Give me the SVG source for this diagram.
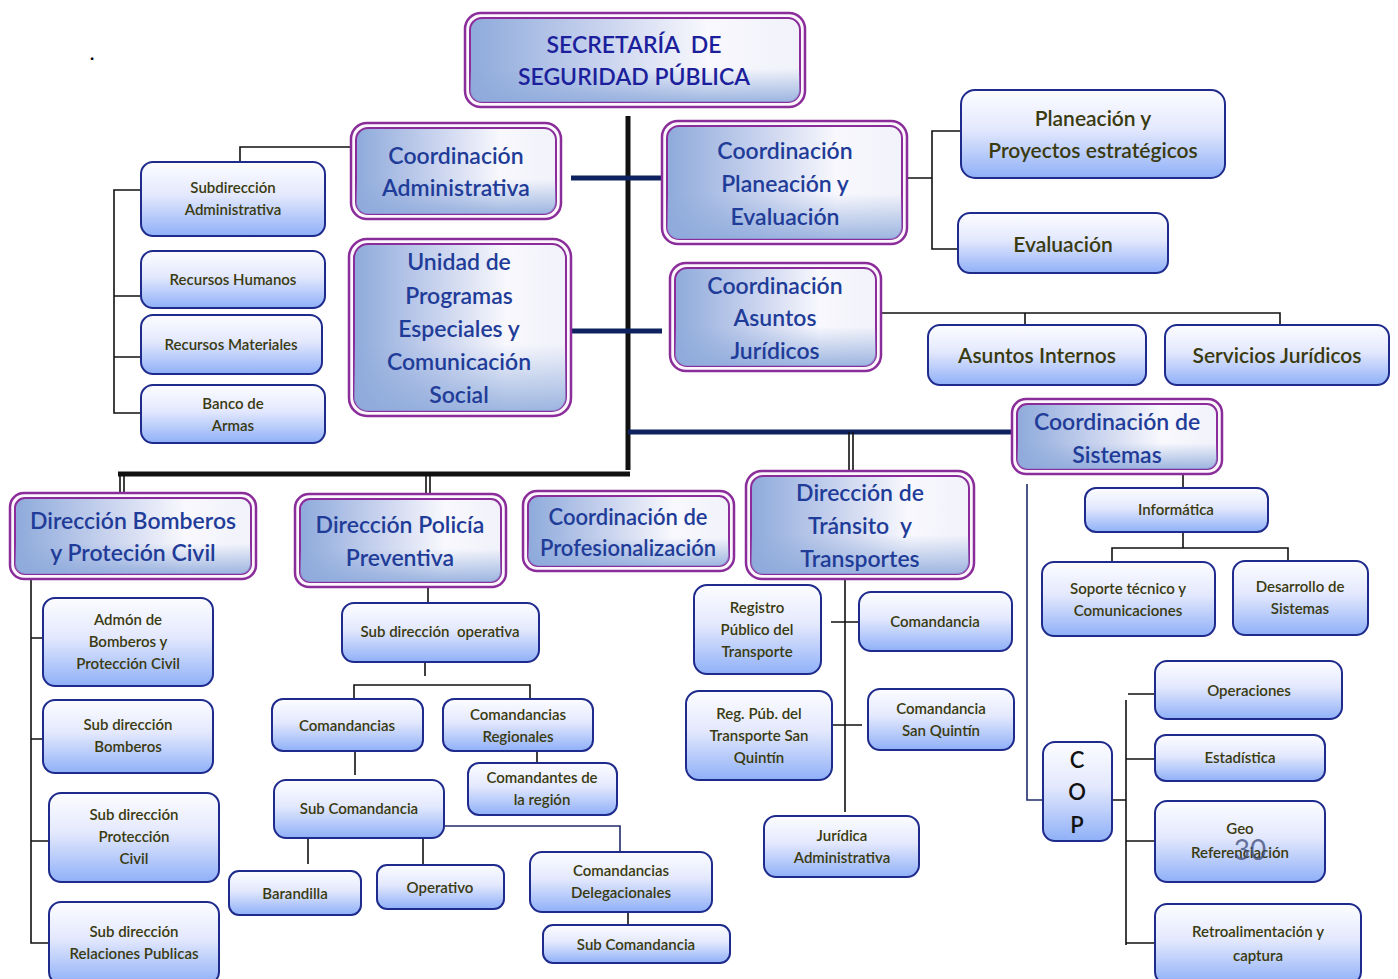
<svg xmlns="http://www.w3.org/2000/svg" width="1398" height="979" viewBox="0 0 1398 979">
  <defs>
    <linearGradient id="gMainH" x1="0" y1="0" x2="1" y2="0">
      <stop offset="0" stop-color="#8eaadb"/>
      <stop offset="0.4" stop-color="#c9d3ee"/>
      <stop offset="0.72" stop-color="#f8f8fd"/>
      <stop offset="1" stop-color="#f1f2fa"/>
    </linearGradient>
    <linearGradient id="gMainV" x1="0" y1="0" x2="0" y2="1">
      <stop offset="0" stop-color="#8eaadb" stop-opacity="0"/>
      <stop offset="0.6" stop-color="#8eaadb" stop-opacity="0"/>
      <stop offset="1" stop-color="#8eaadb" stop-opacity="0.85"/>
    </linearGradient>
    <linearGradient id="gSub" x1="0" y1="0" x2="0" y2="1">
      <stop offset="0" stop-color="#fdfdff"/>
      <stop offset="0.45" stop-color="#e3e8fd"/>
      <stop offset="1" stop-color="#8fb0f8"/>
    </linearGradient>
    <style>
      .mo { fill: #fbf7fc; stroke: #8b2c9b; stroke-width: 2.5; }
      .mi { fill: url(#gMainH); stroke: #8b2c9b; stroke-width: 2; }
      .mv { fill: url(#gMainV); stroke: none; }
      .sb { fill: url(#gSub); stroke: #1f2b8c; stroke-width: 2; }
      text { font-family: Lato, "Liberation Sans", sans-serif; text-anchor: middle; }
      .mt { fill: #1f3c98; font-size: 23px; font-weight: 600; }
      .tt { fill: #1c1f9c; font-size: 23px; font-weight: 600; white-space: pre; }
      .st { fill: #3a3a10; font-size: 15px; font-weight: 600; }
      .sl { fill: #3a3a10; font-size: 21px; font-weight: 600; }
      .thin { fill: none; stroke: #111; stroke-width: 1.6; }
      .navyThin { fill: none; stroke: #1f2b6a; stroke-width: 1.6; }
      .spine { fill: none; stroke: #111; stroke-width: 5; }
      .navy { fill: none; stroke: #0e2260; stroke-width: 5; }
    </style>
  </defs>

  <rect width="1398" height="979" fill="#ffffff"/>
  <text x="92" y="60" style="font-size:22px;fill:#000">.</text>

  <!-- connectors -->
  <g id="connectors">
    <!-- trunk -->
    <line class="spine" x1="628" y1="116" x2="628" y2="470"/>
    <line class="navy" x1="571" y1="178" x2="662" y2="178"/>
    <line class="navy" x1="571" y1="331" x2="662" y2="331"/>
    <line class="navy" x1="628" y1="432" x2="1012" y2="432"/>
    <line class="spine" x1="118" y1="474" x2="630" y2="474"/>
    <!-- double drops -->
    <path class="thin" d="M120 474V495M124 474V495"/>
    <path class="thin" d="M426 474V495M430 474V495"/>
    <path class="thin" d="M849 432V472M853 432V472"/>
    <!-- administrativa -->
    <path class="thin" d="M351 147H240V162"/>
    <path class="thin" d="M141 190H114V413H141M114 296H141M114 357H141"/>
    <!-- planeacion -->
    <path class="thin" d="M907 178H932M961 131H932V249H958"/>
    <!-- juridicos -->
    <path class="thin" d="M881 313H1280V325M1025 313V325"/>
    <!-- sistemas -->
    <path class="thin" d="M1183 474V488M1183 532V548M1112 562V548H1288V562"/>
    <path class="navyThin" d="M1027 484V800H1043"/>
    <path class="thin" d="M1112 800H1126M1126 700V945M1128 694H1155M1126 759H1155M1126 841H1155M1126 943H1155"/>
    <!-- bomberos -->
    <path class="thin" d="M31 579V943H49M31 638H43M31 739H43M31 841H49"/>
    <!-- policia -->
    <path class="thin" d="M428 587V603M425 662V676M354 699V685H530V699M537 751V763M355 751V775"/>
    <path class="navyThin" d="M444 826H620V852"/>
    <path class="thin" d="M308 838V864M423 838V864M628 912V925"/>
    <!-- transito -->
    <path class="thin" d="M845 579V812M831 622H858M832 725H862"/>
  </g>

  <!-- top -->
  <g id="n-secretaria">
    <rect class="mo" x="465" y="13" width="340" height="94" rx="16"/>
    <rect class="mi" x="470" y="18" width="330" height="84" rx="12"/>
    <rect class="mv" x="470" y="18" width="330" height="84" rx="12"/>
    <text class="tt"><tspan x="634" y="53">SECRETARÍA  DE</tspan><tspan x="634" y="85">SEGURIDAD PÚBLICA</tspan></text>
  </g>

  <g id="n-coord-admin">
    <rect class="mo" x="351" y="123" width="210" height="96" rx="16"/>
    <rect class="mi" x="356" y="128" width="200" height="86" rx="12"/>
    <rect class="mv" x="356" y="128" width="200" height="86" rx="12"/>
    <text class="mt"><tspan x="456" y="164">Coordinación</tspan><tspan x="456" y="196">Administrativa</tspan></text>
  </g>

  <g id="n-coord-planeacion">
    <rect class="mo" x="662" y="121" width="245" height="123" rx="16"/>
    <rect class="mi" x="667" y="126" width="235" height="113" rx="12"/>
    <rect class="mv" x="667" y="126" width="235" height="113" rx="12"/>
    <text class="mt"><tspan x="785" y="159">Coordinación</tspan><tspan x="785" y="192">Planeación y</tspan><tspan x="785" y="225">Evaluación</tspan></text>
  </g>

  <g id="n-unidad">
    <rect class="mo" x="349" y="239" width="222" height="177" rx="18"/>
    <rect class="mi" x="354" y="244" width="212" height="167" rx="14"/>
    <rect class="mv" x="354" y="244" width="212" height="167" rx="14"/>
    <text class="mt"><tspan x="459" y="270">Unidad de</tspan><tspan x="459" y="304">Programas</tspan><tspan x="459" y="337">Especiales y</tspan><tspan x="459" y="370">Comunicación</tspan><tspan x="459" y="403">Social</tspan></text>
  </g>

  <g id="n-coord-juridicos">
    <rect class="mo" x="670" y="263" width="211" height="108" rx="16"/>
    <rect class="mi" x="675" y="268" width="201" height="98" rx="12"/>
    <rect class="mv" x="675" y="268" width="201" height="98" rx="12"/>
    <text class="mt"><tspan x="775" y="294">Coordinación</tspan><tspan x="775" y="326">Asuntos</tspan><tspan x="775" y="359">Jurídicos</tspan></text>
  </g>

  <g id="n-coord-sistemas">
    <rect class="mo" x="1012" y="399" width="210" height="75" rx="14"/>
    <rect class="mi" x="1017" y="404" width="200" height="65" rx="10"/>
    <rect class="mv" x="1017" y="404" width="200" height="65" rx="10"/>
    <text class="mt"><tspan x="1117" y="430">Coordinación de</tspan><tspan x="1117" y="463">Sistemas</tspan></text>
  </g>

  <g id="n-dir-bomberos">
    <rect class="mo" x="10" y="493" width="246" height="86" rx="14"/>
    <rect class="mi" x="15" y="498" width="236" height="76" rx="10"/>
    <rect class="mv" x="15" y="498" width="236" height="76" rx="10"/>
    <text class="mt"><tspan x="133" y="529">Dirección Bomberos</tspan><tspan x="133" y="561">y Proteción Civil</tspan></text>
  </g>

  <g id="n-dir-policia">
    <rect class="mo" x="295" y="494" width="211" height="93" rx="14"/>
    <rect class="mi" x="300" y="499" width="201" height="83" rx="10"/>
    <rect class="mv" x="300" y="499" width="201" height="83" rx="10"/>
    <text class="mt"><tspan x="400" y="533">Dirección Policía</tspan><tspan x="400" y="566">Preventiva</tspan></text>
  </g>

  <g id="n-coord-profesionalizacion">
    <rect class="mo" x="523" y="491" width="211" height="80" rx="14"/>
    <rect class="mi" x="528" y="496" width="201" height="70" rx="10"/>
    <rect class="mv" x="528" y="496" width="201" height="70" rx="10"/>
    <text class="mt" style="font-size:22px"><tspan x="628" y="525">Coordinación de</tspan><tspan x="628" y="556">Profesionalización</tspan></text>
  </g>

  <g id="n-dir-transito">
    <rect class="mo" x="746" y="471" width="228" height="108" rx="16"/>
    <rect class="mi" x="751" y="476" width="218" height="98" rx="12"/>
    <rect class="mv" x="751" y="476" width="218" height="98" rx="12"/>
    <text class="mt" style="white-space:pre"><tspan x="860" y="501">Dirección de</tspan><tspan x="860" y="534">Tránsito  y</tspan><tspan x="860" y="567">Transportes</tspan></text>
  </g>

  <!-- administrativa children -->
  <g id="n-subdir-admin">
    <rect class="sb" x="141" y="162" width="184" height="74" rx="12"/>
    <text class="st"><tspan x="233" y="193">Subdirección</tspan><tspan x="233" y="215">Administrativa</tspan></text>
  </g>
  <g id="n-rrhh">
    <rect class="sb" x="141" y="251" width="184" height="57" rx="12"/>
    <text class="st"><tspan x="233" y="285">Recursos Humanos</tspan></text>
  </g>
  <g id="n-rrmm">
    <rect class="sb" x="141" y="315" width="181" height="59" rx="12"/>
    <text class="st"><tspan x="231" y="350">Recursos Materiales</tspan></text>
  </g>
  <g id="n-banco">
    <rect class="sb" x="141" y="385" width="184" height="58" rx="12"/>
    <text class="st"><tspan x="233" y="409">Banco de</tspan><tspan x="233" y="431">Armas</tspan></text>
  </g>

  <!-- planeacion children -->
  <g id="n-planeacion-proy">
    <rect class="sb" x="961" y="90" width="264" height="88" rx="14"/>
    <text class="sl"><tspan x="1093" y="126">Planeación y</tspan><tspan x="1093" y="158">Proyectos estratégicos</tspan></text>
  </g>
  <g id="n-evaluacion">
    <rect class="sb" x="958" y="213" width="210" height="60" rx="12"/>
    <text class="sl"><tspan x="1063" y="252">Evaluación</tspan></text>
  </g>

  <!-- juridicos children -->
  <g id="n-asuntos-internos">
    <rect class="sb" x="928" y="325" width="218" height="60" rx="12"/>
    <text class="sl"><tspan x="1037" y="363">Asuntos Internos</tspan></text>
  </g>
  <g id="n-servicios-juridicos">
    <rect class="sb" x="1165" y="325" width="224" height="60" rx="12"/>
    <text class="sl"><tspan x="1277" y="363">Servicios Jurídicos</tspan></text>
  </g>

  <!-- sistemas children -->
  <g id="n-informatica">
    <rect class="sb" x="1085" y="488" width="183" height="44" rx="11"/>
    <text class="st"><tspan x="1176" y="515">Informática</tspan></text>
  </g>
  <g id="n-soporte">
    <rect class="sb" x="1042" y="562" width="173" height="74" rx="12"/>
    <text class="st"><tspan x="1128" y="594">Soporte técnico y</tspan><tspan x="1128" y="616">Comunicaciones</tspan></text>
  </g>
  <g id="n-desarrollo">
    <rect class="sb" x="1233" y="561" width="135" height="74" rx="12"/>
    <text class="st"><tspan x="1300" y="592">Desarrollo de</tspan><tspan x="1300" y="614">Sistemas</tspan></text>
  </g>
  <g id="n-cop">
    <rect class="sb" x="1043" y="742" width="69" height="99" rx="12"/>
    <text style="font-size:22px;font-weight:600;fill:#111"><tspan x="1077" y="768">C</tspan><tspan x="1077" y="800">O</tspan><tspan x="1077" y="833">P</tspan></text>
  </g>
  <g id="n-operaciones">
    <rect class="sb" x="1155" y="661" width="187" height="58" rx="12"/>
    <text class="st"><tspan x="1249" y="696">Operaciones</tspan></text>
  </g>
  <g id="n-estadistica">
    <rect class="sb" x="1155" y="735" width="170" height="46" rx="11"/>
    <text class="st"><tspan x="1240" y="763">Estadística</tspan></text>
  </g>
  <g id="n-geo">
    <rect class="sb" x="1155" y="801" width="170" height="81" rx="12"/>
    <text class="st"><tspan x="1240" y="834">Geo</tspan><tspan x="1240" y="858">Referenciación</tspan></text>
  </g>
  <g id="n-retro">
    <rect class="sb" x="1155" y="904" width="206" height="80" rx="12"/>
    <text class="st"><tspan x="1258" y="937">Retroalimentación y</tspan><tspan x="1258" y="961">captura</tspan></text>
  </g>

  <!-- bomberos children -->
  <g id="n-admon-bomberos">
    <rect class="sb" x="43" y="598" width="170" height="88" rx="12"/>
    <text class="st"><tspan x="128" y="625">Admón de</tspan><tspan x="128" y="647">Bomberos y</tspan><tspan x="128" y="669">Protección Civil</tspan></text>
  </g>
  <g id="n-subdir-bomberos">
    <rect class="sb" x="43" y="700" width="170" height="73" rx="12"/>
    <text class="st"><tspan x="128" y="730">Sub dirección</tspan><tspan x="128" y="752">Bomberos</tspan></text>
  </g>
  <g id="n-subdir-proteccion">
    <rect class="sb" x="49" y="793" width="170" height="89" rx="12"/>
    <text class="st"><tspan x="134" y="820">Sub dirección</tspan><tspan x="134" y="842">Protección</tspan><tspan x="134" y="864">Civil</tspan></text>
  </g>
  <g id="n-subdir-relaciones">
    <rect class="sb" x="49" y="902" width="170" height="82" rx="12"/>
    <text class="st"><tspan x="134" y="937">Sub dirección</tspan><tspan x="134" y="959">Relaciones Publicas</tspan></text>
  </g>

  <!-- policia children -->
  <g id="n-subdir-operativa">
    <rect class="sb" x="342" y="603" width="197" height="59" rx="12"/>
    <text class="st" style="white-space:pre"><tspan x="440" y="637">Sub dirección  operativa</tspan></text>
  </g>
  <g id="n-comandancias">
    <rect class="sb" x="272" y="699" width="151" height="52" rx="11"/>
    <text class="st"><tspan x="347" y="731">Comandancias</tspan></text>
  </g>
  <g id="n-comandancias-regionales">
    <rect class="sb" x="443" y="699" width="150" height="52" rx="11"/>
    <text class="st"><tspan x="518" y="720">Comandancias</tspan><tspan x="518" y="742">Regionales</tspan></text>
  </g>
  <g id="n-comandantes-region">
    <rect class="sb" x="468" y="763" width="149" height="52" rx="11"/>
    <text class="st"><tspan x="542" y="783">Comandantes de</tspan><tspan x="542" y="805">la región</tspan></text>
  </g>
  <g id="n-subcomandancia">
    <rect class="sb" x="274" y="780" width="170" height="58" rx="12"/>
    <text class="st"><tspan x="359" y="814">Sub Comandancia</tspan></text>
  </g>
  <g id="n-barandilla">
    <rect class="sb" x="229" y="871" width="132" height="44" rx="10"/>
    <text class="st"><tspan x="295" y="899">Barandilla</tspan></text>
  </g>
  <g id="n-operativo">
    <rect class="sb" x="377" y="865" width="127" height="44" rx="10"/>
    <text class="st"><tspan x="440" y="893">Operativo</tspan></text>
  </g>
  <g id="n-comandancias-deleg">
    <rect class="sb" x="530" y="852" width="182" height="60" rx="12"/>
    <text class="st"><tspan x="621" y="876">Comandancias</tspan><tspan x="621" y="898">Delegacionales</tspan></text>
  </g>
  <g id="n-subcomandancia-deleg">
    <rect class="sb" x="543" y="925" width="187" height="38" rx="10"/>
    <text class="st"><tspan x="636" y="950">Sub Comandancia</tspan></text>
  </g>

  <!-- transito children -->
  <g id="n-registro">
    <rect class="sb" x="694" y="585" width="127" height="89" rx="13"/>
    <text class="st"><tspan x="757" y="613">Registro</tspan><tspan x="757" y="635">Público del</tspan><tspan x="757" y="657">Transporte</tspan></text>
  </g>
  <g id="n-comandancia">
    <rect class="sb" x="859" y="592" width="153" height="59" rx="12"/>
    <text class="st"><tspan x="935" y="627">Comandancia</tspan></text>
  </g>
  <g id="n-registro-sq">
    <rect class="sb" x="686" y="691" width="146" height="89" rx="13"/>
    <text class="st"><tspan x="759" y="719">Reg. Púb. del</tspan><tspan x="759" y="741">Transporte San</tspan><tspan x="759" y="763">Quintín</tspan></text>
  </g>
  <g id="n-comandancia-sq">
    <rect class="sb" x="868" y="689" width="146" height="61" rx="12"/>
    <text class="st"><tspan x="941" y="714">Comandancia</tspan><tspan x="941" y="736">San Quintín</tspan></text>
  </g>
  <g id="n-juridica-admin">
    <rect class="sb" x="764" y="816" width="155" height="61" rx="12"/>
    <text class="st"><tspan x="842" y="841">Jurídica</tspan><tspan x="842" y="863">Administrativa</tspan></text>
  </g>

  <!-- slide number -->
  <text x="1250" y="860" style="font-size:28px;fill:#3c4a78;fill-opacity:0.75">30</text>
</svg>
